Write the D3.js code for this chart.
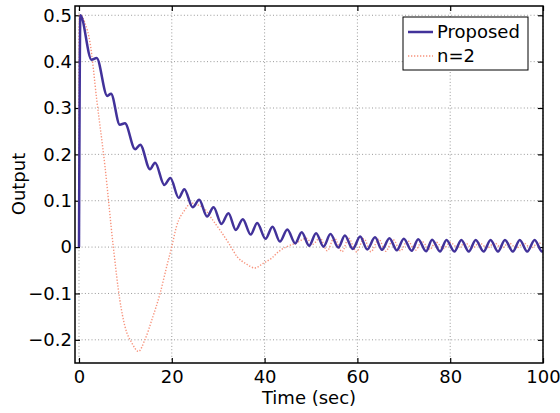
<!DOCTYPE html>
<html>
<head>
<meta charset="utf-8">
<script src="https://cdn.jsdelivr.net/npm/d3@7"></script>
<style>
  body { margin: 0; background: #fff; }
  text { font-family: "DejaVu Sans", sans-serif; }
</style>
</head>
<body>
<div id="chart"></div>
<script>
// Proposed: peaks and troughs (time, output)
const proposedT = [0, 0.3, 2.7, 3.8, 6.1, 6.9, 8.8, 9.9, 12.1, 13.2, 15.3, 16.4, 18.4, 19.7, 21.5, 22.7,
  24.5, 25.9, 27.6, 29.0, 30.7, 32.2, 33.8, 35.3, 37.0, 38.4, 40.2, 41.7, 43.3, 44.9, 46.6, 48.0,
  49.6, 51.1, 52.7, 54.2, 55.9, 57.3, 59.0, 60.6, 62.1, 63.8, 65.3, 66.9, 68.5, 70.0, 71.7, 73.1,
  74.8, 76.1, 77.8, 79.2, 80.9, 82.4, 84.0, 85.5, 87.2, 88.7, 90.3, 91.8, 93.5, 95.0, 96.6, 98.2, 99.8, 100];
const proposedV = [0, 0.5, 0.404, 0.408, 0.326, 0.331, 0.264, 0.267, 0.211, 0.221, 0.168, 0.182, 0.134, 0.149, 0.106, 0.125,
  0.086, 0.102, 0.066, 0.086, 0.050, 0.073, 0.037, 0.060, 0.027, 0.052, 0.018, 0.044, 0.012, 0.038, 0.008, 0.032,
  0.003, 0.030, 0.001, 0.028, -0.001, 0.025, -0.004, 0.023, -0.005, 0.021, -0.006, 0.019, -0.007, 0.018, -0.008, 0.017,
  -0.009, 0.016, -0.0095, 0.0155, -0.0095, 0.0155, -0.0095, 0.0155, -0.0095, 0.0155, -0.0095, 0.0155, -0.0095, 0.0155, -0.0095, 0.0155, -0.0095, -0.009];

// n=2
const n2T = [0, 0.05, 0.4, 1.3, 2.4, 3.8, 5.6, 7.4, 8.8, 9.9, 11.4, 12.8, 14.2, 15.7, 17.5, 18.9, 20.0, 21.0,
  22.8, 24.2, 25.6, 27.1, 28.7, 30.5, 32.3, 34.1, 36.0, 37.9, 39.7, 41.5, 43.1, 44.8, 46.9, 49.0,
  50.4, 51.9, 53.5, 55.0, 56.7, 58.1, 59.8, 61.4, 62.9, 64.6, 66.1, 67.7, 69.3, 70.8, 72.5, 73.9,
  75.6, 76.9, 78.6, 80.0, 81.7, 83.2, 84.8, 86.3, 88.0, 89.5, 91.1, 92.6, 94.3, 95.8, 97.4, 99.0, 100];
const n2V = [0, 0.5, 0.5, 0.483, 0.44, 0.32, 0.174, 0.0, -0.114, -0.171, -0.207, -0.225, -0.2, -0.157, -0.099, -0.042, 0.001, 0.044,
  0.08, 0.095, 0.091, 0.082, 0.06, 0.035, 0.008, -0.021, -0.036, -0.045, -0.035, -0.024, -0.009, 0.001, 0.009, 0.019,
  0.006, 0.02, -0.008, 0.02, -0.01, 0.019, -0.01, 0.018, -0.01, 0.017, -0.009, 0.016, -0.008, 0.014, -0.007, 0.012,
  -0.005, 0.011, -0.003, 0.010, -0.002, 0.009, -0.002, 0.009, -0.002, 0.009, -0.002, 0.009, -0.002, 0.009, -0.002, 0.009, 0.006];

const xTicks = [0, 20, 40, 60, 80, 100];
const yTicks = [-0.2, -0.1, 0, 0.1, 0.2, 0.3, 0.4, 0.5];
const seriesNames = ["Proposed", "n=2"];

const width = 560, height = 413;
const margin = {top: 6, right: 17, bottom: 50, left: 75};
const iw = width - margin.left - margin.right;
const ih = height - margin.top - margin.bottom;
const fs = 18;

const purple = "#42329a";
const salmon = "#f7937c";

const x = d3.scaleLinear().domain([-0.86, 100]).range([0, iw]);
const y = d3.scaleLinear().domain([-0.25, 0.52]).range([ih, 0]);

const svg = d3.select("#chart").append("svg")
  .attr("width", width).attr("height", height);
const g = svg.append("g").attr("transform", `translate(${margin.left},${margin.top})`);

g.append("defs").append("clipPath").attr("id", "clip")
  .append("rect").attr("width", iw).attr("height", ih);

// grid
g.append("g").selectAll("line").data(xTicks).enter().append("line")
  .attr("x1", d => x(d)).attr("x2", d => x(d)).attr("y1", 0).attr("y2", ih)
  .attr("stroke", "#999").attr("stroke-width", 1).attr("stroke-dasharray", "1,2.3");
g.append("g").selectAll("line").data(yTicks).enter().append("line")
  .attr("y1", d => y(d)).attr("y2", d => y(d)).attr("x1", 0).attr("x2", iw)
  .attr("stroke", "#999").attr("stroke-width", 1).attr("stroke-dasharray", "1,2.3");

const fmt = d => d === 0 ? "0" : d3.format(".1f")(d).replace("-", "\u2212");

// axes (ticks inside, on all four sides)
const axB = g.append("g").attr("transform", `translate(0,${ih})`)
  .call(d3.axisBottom(x).tickValues(xTicks).tickSize(-5).tickPadding(7).tickFormat(d3.format("d")));
const axT = g.append("g")
  .call(d3.axisTop(x).tickValues(xTicks).tickSize(-5).tickFormat(""));
const axL = g.append("g")
  .call(d3.axisLeft(y).tickValues(yTicks).tickSize(-5).tickPadding(3).tickFormat(fmt));
const axR = g.append("g").attr("transform", `translate(${iw},0)`)
  .call(d3.axisRight(y).tickValues(yTicks).tickSize(-5).tickFormat(""));
[axB, axT, axL, axR].forEach(a => {
  a.select(".domain").remove();
  a.selectAll(".tick line").attr("stroke", "#000").attr("stroke-width", 1.2);
  a.selectAll("text").attr("font-size", fs).attr("fill", "#000")
    .style("font-family", '"DejaVu Sans", sans-serif');
});

const line = d3.line()
  .curve(d3.curveMonotoneX)
  .x(d => x(d[0])).y(d => y(d[1]));

const lines = g.append("g").attr("clip-path", "url(#clip)");
lines.append("path")
  .datum(n2T.map((t, i) => [t, n2V[i]]))
  .attr("d", line)
  .attr("fill", "none").attr("stroke", salmon).attr("stroke-width", 1.4)
  .attr("stroke-dasharray", "1.3,1.7");
lines.append("path")
  .datum(proposedT.map((t, i) => [t, proposedV[i]]))
  .attr("d", line)
  .attr("fill", "none").attr("stroke", purple).attr("stroke-width", 2.5);

// frame
g.append("rect").attr("width", iw).attr("height", ih)
  .attr("fill", "none").attr("stroke", "#000").attr("stroke-width", 1.5);

// axis labels
svg.append("text").attr("x", margin.left + iw / 2).attr("y", 404)
  .attr("text-anchor", "middle").attr("font-size", fs).text("Time (sec)");
svg.append("text").attr("transform", "translate(25,184) rotate(-90)")
  .attr("text-anchor", "middle").attr("font-size", fs).text("Output");

// legend
const leg = svg.append("g").attr("transform", "translate(403,17)");
leg.append("rect").attr("width", 125).attr("height", 53)
  .attr("fill", "#fff").attr("stroke", "#000").attr("stroke-width", 1);
const items = leg.selectAll("g.item").data(seriesNames).enter().append("g")
  .attr("class", "item").attr("transform", (d, i) => `translate(0,${15 + i * 24})`);
items.append("line").attr("x1", 5).attr("x2", 30).attr("y1", 0).attr("y2", 0)
  .attr("stroke", (d, i) => i === 0 ? purple : salmon)
  .attr("stroke-width", (d, i) => i === 0 ? 2.5 : 1.4)
  .attr("stroke-dasharray", (d, i) => i === 0 ? null : "1.3,1.7");
items.append("text").attr("x", 34).attr("y", 6).attr("font-size", fs).text(d => d);
</script>
</body>
</html>
